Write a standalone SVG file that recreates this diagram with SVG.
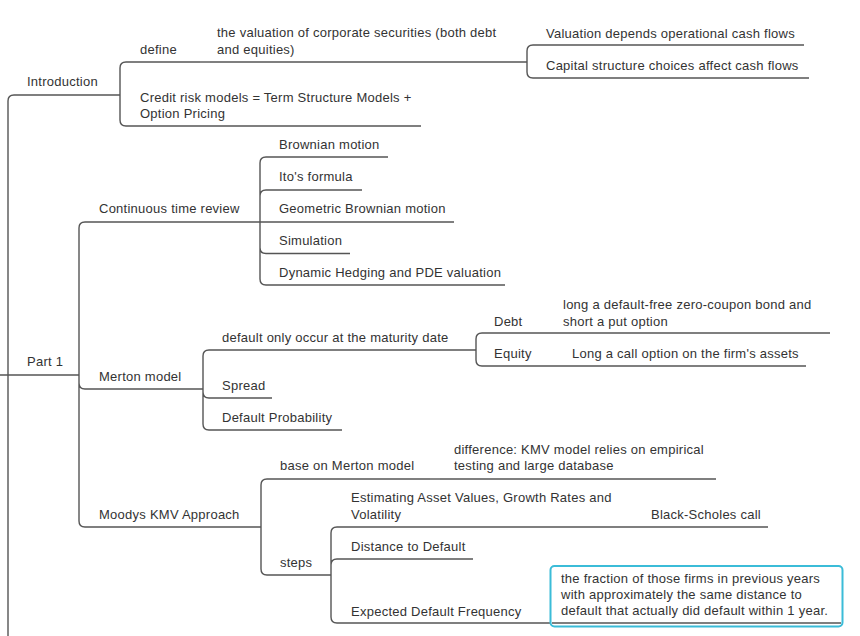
<svg xmlns="http://www.w3.org/2000/svg" width="860" height="636" viewBox="0 0 860 636">
<style>
text{font-family:"Liberation Sans",Arial,sans-serif;font-size:13px;fill:#333;letter-spacing:0.25px}
.u{stroke:#555;stroke-width:1.4;fill:none}
.c{stroke:#555;stroke-width:1.4;fill:none}
</style>
<rect width="860" height="636" fill="#fff"/>
<g id="connectors">
<path class="c" d="M0,375 H14 M8,375 V101 Q8,95 14,95 M8,375 V640"/>
<path class="c" d="M120,95 V68 Q120,62 126,62 M120,95 V120 Q120,126 126,126"/>
<path class="c" d="M200,62 H210"/>
<path class="c" d="M527,62 V51 Q527,45 533,45 M527,62 V72 Q527,78 533,78"/>
<path class="c" d="M79,375 V228 Q79,222 85,222 M79,375 V383 Q79,389 85,389 M79,375 V521 Q79,527 85,527"/>
<path class="c" d="M260,222 V163 Q260,157 266,157 M260,222 V196 Q260,190 266,190 M260,222 H266 M260,222 V247.5 Q260,253.5 266,253.5 M260,222 V279 Q260,285 266,285"/>
<path class="c" d="M203,389 V356 Q203,350 209,350 M203,389 V392 Q203,398 209,398 M203,389 V424 Q203,430 209,430"/>
<path class="c" d="M476,350 V339 Q476,333 482,333 M476,350 V360 Q476,366 482,366"/>
<path class="c" d="M535,333 H545 M545,366 H555"/>
<path class="c" d="M261,527 V485 Q261,479 267,479 M261,527 V569 Q261,575 267,575"/>
<path class="c" d="M430,479 H440"/>
<path class="c" d="M331,575 V533 Q331,527 337,527 M331,575 V565 Q331,559 337,559 M331,575 V617 Q331,623 337,623"/>
<path class="c" d="M620,527 H630 M540,623 H550"/>
</g>
<g id="introduction">
<text x="27" y="86">Introduction</text>
<path class="u" d="M14,95 H120"/>
</g>
<g id="define">
<text x="140" y="54">define</text>
<path class="u" d="M126,62 H200"/>
</g>
<g id="valuation-corporate">
<text x="217" y="37">the valuation of corporate securities (both debt</text>
<text x="217" y="54">and equities)</text>
<path class="u" d="M210,62 H527"/>
</g>
<g id="valuation-depends">
<text x="546" y="38">Valuation depends operational cash flows</text>
<path class="u" d="M533,45 H804"/>
</g>
<g id="capital-structure">
<text x="546" y="70">Capital structure choices affect cash flows</text>
<path class="u" d="M533,78 H809"/>
</g>
<g id="credit-risk">
<text x="140" y="102">Credit risk models = Term Structure Models +</text>
<text x="140" y="118">Option Pricing</text>
<path class="u" d="M126,126 H421"/>
</g>
<g id="part1">
<text x="27" y="366">Part 1</text>
<path class="u" d="M14,375 H79"/>
</g>
<g id="continuous">
<text x="99" y="213">Continuous time review</text>
<path class="u" d="M85,222 H260"/>
</g>
<g id="brownian">
<text x="279" y="149">Brownian motion</text>
<path class="u" d="M266,157 H388"/>
</g>
<g id="ito">
<text x="279" y="181">Ito's formula</text>
<path class="u" d="M266,190 H362"/>
</g>
<g id="geometric">
<text x="279" y="213">Geometric Brownian motion</text>
<path class="u" d="M266,222 H454"/>
</g>
<g id="simulation">
<text x="279" y="245">Simulation</text>
<path class="u" d="M266,253.5 H350"/>
</g>
<g id="dynamic">
<text x="279" y="277">Dynamic Hedging and PDE valuation</text>
<path class="u" d="M266,285 H505"/>
</g>
<g id="merton">
<text x="99" y="381">Merton model</text>
<path class="u" d="M85,389 H203"/>
</g>
<g id="default-only">
<text x="222" y="342">default only occur at the maturity date</text>
<path class="u" d="M209,350 H476"/>
</g>
<g id="debt">
<text x="494" y="326">Debt</text>
<path class="u" d="M482,333 H535"/>
</g>
<g id="debt-desc">
<text x="563" y="309">long a default-free zero-coupon bond and</text>
<text x="563" y="326">short a put option</text>
<path class="u" d="M545,333 H830"/>
</g>
<g id="equity">
<text x="494" y="358">Equity</text>
<path class="u" d="M482,366 H545"/>
</g>
<g id="equity-desc">
<text x="572" y="358">Long a call option on the firm's assets</text>
<path class="u" d="M555,366 H806"/>
</g>
<g id="spread">
<text x="222" y="390">Spread</text>
<path class="u" d="M209,398 H272"/>
</g>
<g id="default-probability">
<text x="222" y="422">Default Probability</text>
<path class="u" d="M209,430 H342"/>
</g>
<g id="moodys">
<text x="99" y="519">Moodys KMV Approach</text>
<path class="u" d="M85,527 H261"/>
</g>
<g id="base-merton">
<text x="280" y="470">base on Merton model</text>
<path class="u" d="M267,479 H430"/>
</g>
<g id="difference">
<text x="454" y="454">difference: KMV model relies on empirical</text>
<text x="454" y="470">testing and large database</text>
<path class="u" d="M440,479 H716"/>
</g>
<g id="steps">
<text x="280" y="567">steps</text>
<path class="u" d="M267,575 H331"/>
</g>
<g id="estimating">
<text x="351" y="502">Estimating Asset Values, Growth Rates and</text>
<text x="351" y="519">Volatility</text>
<path class="u" d="M337,527 H620"/>
</g>
<g id="black-scholes">
<text x="651" y="519">Black-Scholes call</text>
<path class="u" d="M630,527 H768"/>
</g>
<g id="distance">
<text x="351" y="551">Distance to Default</text>
<path class="u" d="M337,559 H473"/>
</g>
<g id="expected">
<text x="351" y="616">Expected Default Frequency</text>
<path class="u" d="M337,623 H540"/>
</g>
<g id="fraction">
<rect x="550.5" y="566" width="292" height="60.5" rx="4" fill="#fff" stroke="#3bbcd8" stroke-width="2"/>
<path class="u" d="M552,623 H841"/>
<text x="561" y="583">the fraction of those firms in previous years</text>
<text x="561" y="599">with approximately the same distance to</text>
<text x="561" y="615">default that actually did default within 1 year.</text>
</g>
</svg>
